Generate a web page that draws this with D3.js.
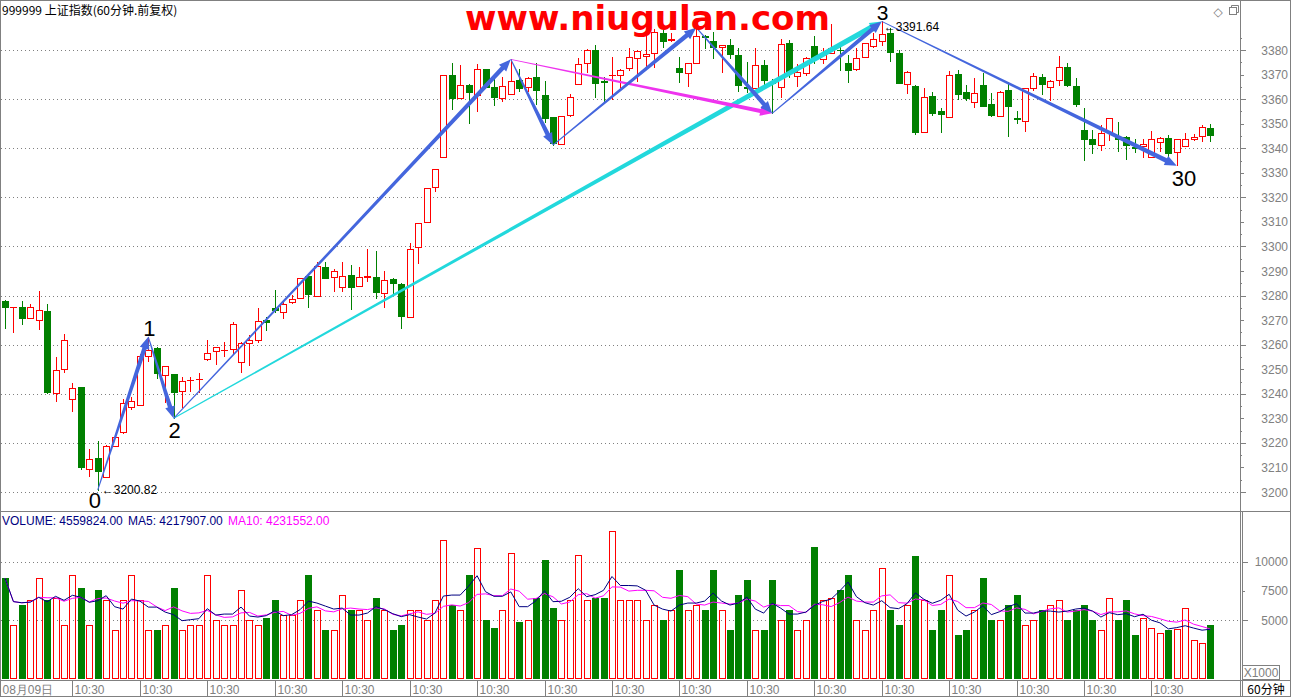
<!DOCTYPE html>
<html><head><meta charset="utf-8">
<script src="https://cdn.jsdelivr.net/npm/d3@7"></script>
<style>body{margin:0;background:#fff;overflow:hidden}svg{display:block}</style>
</head><body><svg id="c" width="1292" height="699"></svg>
<script>
// ---------------- data ----------------
const opens = [3277.8,3275.3,3275.2,3270.7,3270.0,3273.7,3240.2,3249.9,3237.7,3242.6,
3209.4,3214.0,3206.0,3218.8,3224.5,3234.8,3235.4,3255.5,3258.5,3247.6,
3247.9,3241.3,3245.6,3246.0,3254.0,3257.4,3257.8,3258.1,3253.0,3260.5,
3262.1,3270.0,3274.8,3273.2,3277.2,3279.1,3287.9,3279.9,3291.7,3287.4,
3283.6,3288.3,3284.0,3287.6,3287.7,3280.9,3286.6,3284.9,3271.4,3299.6,
3309.8,3324.1,3336.3,3369.7,3360.3,3365.7,3361.7,3372.3,3364.9,3360.3,
3361.9,3367.6,3364.8,3369.0,3361.7,3352.7,3341.6,3353.5,3366.0,3374.6,
3380.0,3367.2,3369.8,3369.7,3372.5,3376.9,3377.4,3378.6,3386.8,3384.2,
3372.8,3370.5,3374.6,3385.7,3383.7,3381.1,3382.0,3377.9,3364.8,3364.4,
3373.9,3367.1,3365.1,3382.7,3369.4,3370.5,3381.6,3376.3,3378.6,3380.1,
3374.6,3372.1,3377.0,3381.6,3383.7,3386.8,3378.6,3366.0,3365.3,3346.5,
3361.3,3355.2,3352.6,3370.1,3362.8,3358.9,3365.7,3357.9,3353.3,3363.6,
3352.3,3351.2,3364.4,3368.9,3364.8,3367.6,3372.9,3365.3,3347.4,3343.7,
3341.3,3346.7,3344.5,3344.4,3340.4,3341.0,3336.3,3342.4,3344.0,3338.3,
3340.9,3343.7,3345.1,3348.4];
const closes = [3275.5,3275.4,3271.0,3275.5,3274.1,3240.8,3249.5,3261.7,3242.2,3210.0,
3213.6,3208.6,3218.9,3222.5,3236.1,3237.1,3255.5,3257.8,3248.6,3251.2,
3240.8,3245.3,3245.8,3246.2,3256.7,3258.9,3258.0,3268.3,3260.8,3262.1,
3269.6,3269.1,3274.1,3276.4,3278.6,3287.0,3280.5,3292.1,3287.2,3289.9,
3288.1,3283.6,3287.7,3287.8,3281.3,3286.3,3285.2,3271.6,3298.8,3309.4,
3323.6,3331.4,3369.7,3360.6,3365.6,3363.0,3372.1,3365.1,3361.0,3365.2,
3367.5,3364.7,3368.5,3363.7,3352.4,3342.0,3353.0,3360.7,3374.1,3380.0,
3366.7,3366.9,3370.0,3371.7,3377.3,3379.6,3378.2,3387.5,3383.7,3384.5,
3370.9,3374.6,3385.8,3385.4,3381.4,3381.9,3378.2,3365.7,3364.6,3373.9,
3367.8,3366.4,3382.3,3370.9,3370.9,3376.6,3376.9,3378.6,3380.7,3379.9,
3371.8,3376.6,3382.7,3384.5,3386.4,3379.0,3366.7,3371.2,3346.7,3360.7,
3354.5,3354.1,3369.8,3362.2,3360.3,3362.6,3357.3,3353.4,3363.0,3357.3,
3351.8,3364.4,3369.5,3366.3,3367.5,3372.9,3365.7,3357.9,3343.7,3341.7,
3346.0,3352.4,3343.8,3341.3,3340.0,3341.7,3343.6,3344.0,3337.9,3343.6,
3343.6,3344.7,3348.8,3345.4];
const highs = [3278.2,3275.5,3277.7,3276.7,3281.8,3276.4,3254.9,3264.2,3244.5,3242.6,
3217.7,3220.7,3219.0,3223.2,3237.8,3238.8,3256.0,3263.2,3258.9,3251.3,
3248.0,3246.9,3246.9,3248.3,3261.9,3259.0,3261.2,3269.1,3261.2,3263.9,
3274.8,3271.4,3282.3,3277.5,3280.2,3287.2,3288.0,3293.7,3293.7,3290.8,
3293.7,3292.4,3291.7,3298.8,3298.1,3290.2,3287.2,3285.0,3301.2,3309.5,
3323.8,3331.6,3370.0,3374.6,3373.9,3366.0,3374.1,3372.4,3368.0,3369.0,
3376.2,3372.3,3369.1,3374.6,3367.4,3352.8,3353.2,3362.1,3376.6,3380.3,
3382.0,3369.1,3377.3,3372.3,3380.7,3380.0,3386.1,3388.5,3388.0,3386.8,
3377.3,3374.7,3389.1,3386.0,3387.5,3382.0,3384.5,3380.7,3375.0,3380.7,
3375.9,3368.2,3384.5,3384.1,3374.1,3377.3,3385.8,3380.7,3390.5,3382.0,
3378.0,3380.7,3383.0,3386.8,3391.64,3388.8,3380.0,3371.3,3365.7,3364.7,
3362.8,3356.2,3371.4,3371.8,3365.7,3368.4,3370.5,3362.3,3363.1,3367.1,
3355.3,3364.5,3370.5,3370.2,3367.6,3377.6,3374.6,3368.7,3356.2,3347.4,
3349.4,3352.5,3350.8,3345.1,3343.7,3343.7,3347.0,3344.4,3345.4,3343.7,
3346.0,3345.6,3349.4,3349.7];
const lows = [3266.9,3264.6,3268.6,3270.7,3266.1,3240.4,3236.8,3248.3,3232.4,3209.4,
3206.2,3200.82,3206.0,3218.5,3223.8,3233.3,3235.4,3253.0,3246.3,3236.1,
3230.0,3234.3,3240.8,3240.2,3253.5,3251.7,3255.0,3256.0,3248.5,3251.2,
3260.8,3265.9,3273.4,3270.4,3276.4,3278.8,3275.5,3279.5,3287.0,3281.3,
3281.6,3274.5,3283.3,3285.6,3279.1,3274.8,3280.9,3266.9,3271.4,3292.7,
3309.8,3322.3,3336.0,3356.0,3360.3,3350.4,3354.9,3365.0,3357.6,3358.7,
3361.6,3363.3,3363.0,3357.9,3350.8,3341.3,3341.4,3352.8,3366.0,3370.5,
3361.0,3358.9,3359.6,3364.6,3371.4,3367.1,3371.8,3372.5,3381.4,3383.4,
3367.1,3365.1,3374.5,3380.7,3376.6,3370.5,3376.9,3363.3,3363.0,3364.3,
3364.4,3354.2,3360.3,3369.1,3365.1,3369.4,3374.6,3374.1,3378.5,3371.8,
3367.1,3371.4,3376.6,3380.9,3381.6,3375.6,3366.4,3361.9,3345.6,3346.4,
3353.5,3346.7,3352.5,3360.0,3359.6,3356.5,3357.0,3353.3,3353.0,3345.1,
3350.1,3346.7,3363.3,3362.1,3359.3,3365.5,3365.5,3357.3,3335.2,3337.9,
3339.0,3342.9,3338.8,3335.5,3338.6,3335.9,3335.9,3338.6,3336.5,3332.9,
3340.9,3342.9,3342.6,3342.9];
// volume in thousands (axis shows X1000)
const volumes = [8590,4570,6280,6710,8590,6710,6880,4570,8850,7740,
4570,7570,6710,4140,6710,8850,6710,4140,4140,4570,
7740,4140,4570,4570,8850,5000,4570,4570,7570,5000,
4570,5170,6710,5430,5430,6710,8850,5860,4140,4140,
7140,5860,5860,5000,6880,5860,4140,4570,5860,5860,
5000,6710,11850,6280,5860,8850,11160,5000,4310,5860,
10730,4830,5000,6880,10140,6030,5000,6710,10560,6710,
6880,6880,12620,6710,6710,6710,5000,6280,5000,5860,
9280,5860,6280,5860,9280,5860,4140,7140,8420,4140,
4140,8420,5000,5860,4140,5000,11250,6710,6880,7570,
8850,5000,4140,5860,9450,5860,4570,6280,10480,6710,
4140,5860,8850,3720,4140,5860,8590,5000,5000,6280,
7140,4570,5000,5860,6280,6710,5000,5860,6280,5000,
4140,6880,5000,6710,3700,5200,4300,3900,4125,4240,
6000,3290,3000,4560];
const priceTicks = d3.range(3200, 3381, 10);
const priceGrid = d3.range(3200, 3381, 20);
const volTicks = [5000, 7500, 10000];
const volGrid = [5000, 10000];
const timeLabelIdx = d3.range(0, 144, 8);
const timeLabels = ["08月09日","10:30","10:30","10:30","10:30","10:30","10:30","10:30","10:30","10:30","10:30","10:30","10:30","10:30","10:30","10:30","10:30","10:30"];
// wave (zig-zag) turning points: candle index, price, label
const wavePts = [
  {i:11, p:3200.82, lab:"0"}, {i:17, p:3263.2, lab:"1"}, {i:20, p:3230.0, lab:"2"},
  {i:60, p:3376.2, lab:""}, {i:65, p:3341.3, lab:""}, {i:82, p:3389.1, lab:""},
  {i:91, p:3354.2, lab:""}, {i:104, p:3391.64, lab:"3"}, {i:139, p:3332.9, lab:"30"}];
const magentaLink = [{i:60, p:3376.2}, {i:91, p:3354.2}];
const cyanLink = [{i:20, p:3230.0}, {i:104, p:3391.64}];
const title = "999999 上证指数(60分钟.前复权)";
const watermark = "www.niugulan.com";
const legend = [["VOLUME: 4559824.00", "#000080"], ["MA5: 4217907.00", "#000080"], ["MA10: 4231552.00", "#ff00ff"]];

// ---------------- drawing ----------------
const svg = d3.select("#c");
const N = opens.length;
const x = d3.scaleLinear().domain([0, N - 1]).range([5, 5 + (N - 1) * 8.43]);
const y = d3.scaleLinear().domain([3200, 3380]).range([492, 50]);
const yv = d3.scaleLinear().domain([0, 10000]).range([678.4, 561.7]);
const RED = "#ff0000", GREEN = "#008000", GRAY = "#808080";
const cx = i => Math.round(x(i)) + 0.5;
const FONT = "'Liberation Sans', Arial, sans-serif";

// frames
const g0 = svg.append("g");
g0.append("rect").attr("x", 0.5).attr("y", 0.5).attr("width", 1290).attr("height", 696).attr("fill", "none").attr("stroke", GRAY);
g0.append("line").attr("x1", 0).attr("x2", 1291).attr("y1", 511.5).attr("y2", 511.5).attr("stroke", GRAY);
g0.append("line").attr("x1", 0).attr("x2", 1291).attr("y1", 680.5).attr("y2", 680.5).attr("stroke", GRAY);
g0.append("line").attr("x1", 1240.5).attr("x2", 1240.5).attr("y1", 0).attr("y2", 697).attr("stroke", GRAY);
g0.append("line").attr("x1", 1242.5).attr("x2", 1242.5).attr("y1", 512).attr("y2", 697).attr("stroke", GRAY);

// grid
svg.append("g").selectAll("line").data(priceGrid).join("line")
  .attr("x1", 1).attr("x2", 1240).attr("y1", d => Math.round(y(d)) + 0.5).attr("y2", d => Math.round(y(d)) + 0.5)
  .attr("stroke", GRAY).attr("stroke-dasharray", "1,3");
svg.append("g").selectAll("line").data(volGrid).join("line")
  .attr("x1", 1).attr("x2", 1240).attr("y1", d => Math.round(yv(d)) + 0.5).attr("y2", d => Math.round(yv(d)) + 0.5)
  .attr("stroke", GRAY).attr("stroke-dasharray", "1,3");

// price axis
const minor = d3.range(3200, 3386, 5);
svg.append("g").selectAll("line").data(minor).join("line")
  .attr("x1", 1240).attr("x2", d => 1240 + (d % 20 === 0 ? 6 : d % 10 === 0 ? 4 : 2))
  .attr("y1", d => Math.round(y(d)) + 0.5).attr("y2", d => Math.round(y(d)) + 0.5).attr("stroke", GRAY);
svg.append("g").selectAll("text").data(priceTicks).join("text")
  .attr("x", 1288).attr("y", d => y(d) + 4.5).attr("text-anchor", "end")
  .attr("font-family", FONT).attr("font-size", 12).attr("fill", GRAY).text(d => d);
// volume axis
svg.append("g").selectAll("line").data(volTicks).join("line")
  .attr("x1", 1242).attr("x2", d => 1242 + (d % 5000 === 0 ? 6 : 3))
  .attr("y1", d => Math.round(yv(d)) + 0.5).attr("y2", d => Math.round(yv(d)) + 0.5).attr("stroke", GRAY);
svg.append("g").selectAll("text").data(volTicks).join("text")
  .attr("x", 1288).attr("y", d => yv(d) + 4.5).attr("text-anchor", "end")
  .attr("font-family", FONT).attr("font-size", 12).attr("fill", GRAY).text(d => d);
svg.append("rect").attr("x", 1242.5).attr("y", 665.5).attr("width", 37).attr("height", 14).attr("fill", "#fff").attr("stroke", GRAY);
svg.append("text").attr("x", 1261).attr("y", 677).attr("text-anchor", "middle").attr("font-family", FONT).attr("font-size", 12).attr("fill", GRAY).text("X1000");

// time axis
const tg = svg.append("g");
timeLabelIdx.forEach((idx, k) => {
  const xx = k === 0 ? 0.5 : cx(idx);
  tg.append("line").attr("x1", xx).attr("x2", xx).attr("y1", 681).attr("y2", 697).attr("stroke", GRAY);
  tg.append("text").attr("x", xx + 2).attr("y", 694).attr("font-family", FONT).attr("font-size", 12).attr("fill", GRAY).text(timeLabels[k]);
});
svg.append("text").attr("x", 1266).attr("y", 694).attr("text-anchor", "middle").attr("font-family", "'Noto Sans CJK SC', sans-serif").attr("font-size", 12).attr("fill", "#000").text("60分钟");

// candles
const data = d3.range(N).map(i => ({i, o: opens[i], c: closes[i], h: highs[i], l: lows[i], v: volumes[i], up: closes[i] >= opens[i]}));
const cg = svg.append("g");
data.forEach(d => {
  const xc = cx(d.i);
  const col = d.up ? RED : GREEN;
  const top = Math.round(y(Math.max(d.o, d.c))), bot = Math.round(y(Math.min(d.o, d.c)));
  const yh = Math.round(y(d.h)), yl = Math.round(y(d.l));
  if (d.up) {
    if (yh < top) cg.append("line").attr("x1", xc).attr("x2", xc).attr("y1", yh).attr("y2", top).attr("stroke", col);
    if (yl > bot) cg.append("line").attr("x1", xc).attr("x2", xc).attr("y1", bot).attr("y2", yl).attr("stroke", col);
    if (bot - top < 1) cg.append("line").attr("x1", xc - 3.5).attr("x2", xc + 3.5).attr("y1", top + 0.5).attr("y2", top + 0.5).attr("stroke", col);
    else cg.append("rect").attr("x", xc - 3).attr("y", top + 0.5).attr("width", 6).attr("height", bot - top).attr("fill", "#fff").attr("stroke", col);
  } else {
    cg.append("line").attr("x1", xc).attr("x2", xc).attr("y1", yh).attr("y2", yl + 1).attr("stroke", col);
    cg.append("rect").attr("x", xc - 3.5).attr("y", top).attr("width", 7).attr("height", Math.max(1, bot - top + 1)).attr("fill", col);
  }
});

// volume bars
const vg = svg.append("g");
data.forEach(d => {
  const xc = cx(d.i);
  const top = Math.round(yv(d.v));
  if (d.up) vg.append("rect").attr("x", xc - 3).attr("y", top + 0.5).attr("width", 6).attr("height", 679 - top - 1).attr("fill", "none").attr("stroke", RED);
  else vg.append("rect").attr("x", xc - 3.5).attr("y", top).attr("width", 7).attr("height", 679 - top).attr("fill", GREEN);
});
// volume MAs
function ma(n) { return volumes.map((v, i) => d3.mean(volumes.slice(Math.max(0, i - n + 1), i + 1))); }
const lineV = d3.line().x((d, i) => x(i)).y(d => yv(d));
svg.append("path").attr("d", lineV(ma(10))).attr("fill", "none").attr("stroke", "#ff00ff");
svg.append("path").attr("d", lineV(ma(5))).attr("fill", "none").attr("stroke", "#000080");

// tapered arrows
function arrow(p0, p1, w0, w1, hl, hw, color) {
  const x0 = x(p0.i), y0 = y(p0.p), x1 = x(p1.i), y1 = y(p1.p);
  const dx = x1 - x0, dy = y1 - y0, L = Math.hypot(dx, dy);
  const ux = dx / L, uy = dy / L, nx = -uy, ny = ux;
  const bx = x1 - ux * hl, by = y1 - uy * hl;
  const pts = [[x0 + nx * w0 / 2, y0 + ny * w0 / 2], [bx + nx * w1 / 2, by + ny * w1 / 2], [bx + nx * hw / 2, by + ny * hw / 2],
    [x1, y1], [bx - nx * hw / 2, by - ny * hw / 2], [bx - nx * w1 / 2, by - ny * w1 / 2], [x0 - nx * w0 / 2, y0 - ny * w0 / 2]];
  svg.append("polygon").attr("points", pts.map(p => p.join(",")).join(" ")).attr("fill", color);
}
arrow(cyanLink[0], cyanLink[1], 1.2, 5.5, 12, 10, "#22d8dc");
arrow(magentaLink[0], magentaLink[1], 0.8, 4, 12, 10, "#ee33ee");
for (let k = 0; k < wavePts.length - 1; k++) arrow(wavePts[k], wavePts[k + 1], 1, 4.5, 12, 10, "#4466dd");

// wave labels
wavePts.filter(d => d.lab).forEach(d => {
  const dy = d.lab === "3" ? -1 : d.lab === "1" ? -1 : d.lab === "0" ? 18 : 20;
  const dx = d.lab === "0" ? -9 : -5;
  svg.append("text").attr("x", x(d.i) + dx).attr("y", y(d.p) + dy)
    .attr("font-family", FONT).attr("font-size", d.lab === "3" ? 21 : 22).attr("fill", "#000").text(d.lab);
});
// extreme price tags
[[11, 3200.82, 4, 4], [104, 3391.64, 10, 2]].forEach(([i, p, dy, dx]) => {
  svg.append("text").attr("x", x(i) + dx).attr("y", y(p) + dy).attr("font-family", FONT).attr("font-size", 12).attr("fill", "#000").text("←" + p.toFixed(2));
});

// watermark
svg.append("text").attr("x", 465).attr("y", 30).attr("textLength", 365).attr("lengthAdjust", "spacingAndGlyphs")
  .attr("font-family", "'DejaVu Sans', sans-serif").attr("font-weight", "bold").attr("font-size", 33).attr("fill", "#ff0000").text(watermark);

// title & legend
svg.append("text").attr("x", 2).attr("y", 15).attr("font-family", "'Noto Sans CJK SC', sans-serif").attr("font-size", 12).attr("fill", "#000").text(title);
const lx = [2, 128, 228];
legend.forEach((l, k) => svg.append("text").attr("x", lx[k]).attr("y", 525).attr("font-family", FONT).attr("font-size", 12).attr("fill", l[1]).text(l[0]));
// icons
svg.append("text").attr("x", 1218).attr("y", 16).attr("text-anchor", "middle").attr("font-family", "'DejaVu Sans'").attr("font-size", 12).attr("fill", GRAY).text("◇");
svg.append("rect").attr("x", 1229.5).attr("y", 7.5).attr("width", 7).attr("height", 7).attr("fill", "none").attr("stroke", GRAY);
svg.append("path").attr("d", "M1231.5,7.5V5.5H1238.5V12.5H1236.5").attr("fill", "none").attr("stroke", GRAY);
</script></body></html>
